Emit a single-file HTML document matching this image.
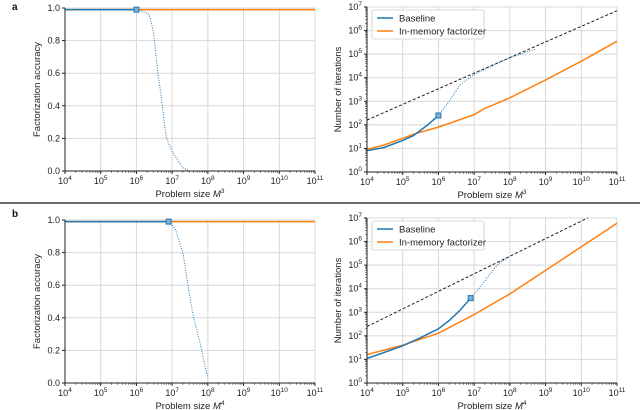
<!DOCTYPE html>
<html><head><meta charset="utf-8"><style>
body{margin:0;background:#fff}
svg{display:block;font-family:"Liberation Sans",sans-serif}
</style></head><body>
<svg id="fig" width="640" height="410" viewBox="0 0 640 410"></svg>
<script>
// ---- data ----
const accAOrangeX=[1e4,1e11];
const accAOrangeY=[0.99,0.99];
const accABlueX=[1e4,1e5,1e6];
const accABlueY=[0.99,0.99,0.99];
const accADotX=[1e6,1.5e6,2.3e6,3e6,4e6,5e6,6e6,7e6,1e7,1.3e7,2e7,3e7,1e8,5e8];
const accADotY=[0.99,0.98,0.96,0.85,0.6,0.45,0.3,0.2,0.12,0.08,0.02,0.0,0.0,0.0];
const accBOrangeX=[1e4,1e11];
const accBOrangeY=[0.99,0.99];
const accBBlueX=[1e4,1e6,8e6];
const accBBlueY=[0.99,0.99,0.99];
const accBDotX=[8e6,1.2e7,2e7,3e7,4e7,6e7,8e7,1e8];
const accBDotY=[0.99,0.95,0.8,0.55,0.4,0.25,0.12,0.03];
const itAOrangeX=[1e4,3e4,1e5,2e5,1e6,1e7,2e7,1e8,1e9,1e10,1e11];
const itAOrangeY=[9,14,27,40,80,270,500,1400,8000,50000,350000];
const itABlueX=[1e4,3e4,1e5,2e5,5e5,1e6];
const itABlueY=[8,11,22,35,100,250];
const itADotX=[1e6,2e6,4e6,1e7,1e8,5e8];
const itADotY=[250,1000,5000,14000,70000,160000];
const itADashX=[1e4,1e11];
const itADashY=[160,7e6];
const itBOrangeX=[1e4,1e5,1e6,1e7,1e8,1e9,1e10,1e11];
const itBOrangeY=[16,40,130,800,6000,60000,600000,6e6];
const itBBlueX=[1e4,1e5,3e5,1e6,2e6,4e6,8e6];
const itBBlueY=[11,38,80,200,450,1200,4000];
const itBDotX=[8e6,1.5e7,3e7,5e7,1e8];
const itBDotY=[4000,12000,50000,120000,230000];
const itBDashX=[1e4,1.5e10];
const itBDashY=[250,1e7];
const xDecades=[4,5,6,7,8,9,10,11];
const accTicks=[0,0.2,0.4,0.6,0.8,1.0];
const itDecades=[0,1,2,3,4,5,6,7];

const NS="http://www.w3.org/2000/svg";
const svg=document.getElementById('fig');
function mk(tag,attrs,parent){const e=document.createElementNS(NS,tag);for(const k in attrs)e.setAttribute(k,attrs[k]);(parent||svg).appendChild(e);return e;}
const BLUE="#1f77b4",ORANGE="#ff7f0e";

function panel(name,x0,x1,y0,y1,logY,ylab,xlab,series,legend,marker){
  const g=mk('g',{});
  
  
  const X=v=>x0+(Math.log10(v)-4)/7*(x1-x0);
  const Y=logY?(v=>y1-Math.log10(v)/7*(y1-y0)):(v=>y1-v*(y1-y0));
  xDecades.forEach(d=>{mk('line',{x1:X(10**d),x2:X(10**d),y1:y0,y2:y1,stroke:'#d8d8d8','stroke-width':1},g);});
  const yt=logY?itDecades:accTicks;
  yt.forEach(t=>{const yy=logY?Y(10**t):Y(t);mk('line',{x1:x0,x2:x1,y1:yy,y2:yy,stroke:'#d8d8d8','stroke-width':1},g);});
  series.forEach(s=>{
    const pts=s.x.map((v,i)=>X(v).toFixed(1)+','+Y(s.y[i]).toFixed(1)).join(' ');
    const p=mk('polyline',{points:pts,fill:'none',stroke:s.c,'stroke-width':s.w||1.5,'stroke-dasharray':s.d||'none'},g);
    
    
  });
  const mx=X(marker[0]),my=Y(marker[1]);
  const m=mk('rect',{x:mx-2.5,y:my-2.5,width:5,height:5,fill:'#7fb0d8',stroke:BLUE,'stroke-width':1},g);
  
  
  mk('line',{x1:x0,x2:x0,y1:y0,y2:y1,stroke:'#222','stroke-width':1},g);
  mk('line',{x1:x0,x2:x1,y1:y1,y2:y1,stroke:'#222','stroke-width':1},g);
  xDecades.forEach(d=>{
    const xx=X(10**d);
    mk('line',{x1:xx,x2:xx,y1:y1,y2:y1+3,stroke:'#222'},g);
    const t=mk('text',{x:xx,y:y1+13,'font-size':9,'text-anchor':'middle',fill:'#222'},g);
    t.textContent='10';
    const s=mk('tspan',{dy:-4,'font-size':6.5},t);s.textContent=d;
    if(d<11)for(let k=2;k<10;k++){const mxx=X(k*10**d);mk('line',{x1:mxx,x2:mxx,y1:y1,y2:y1+1.8,stroke:'#222','stroke-width':0.6},g);}
  });
  yt.forEach(t=>{
    const yy=logY?Y(10**t):Y(t);
    mk('line',{x1:x0-3,x2:x0,y1:yy,y2:yy,stroke:'#222'},g);
    const tx=mk('text',{x:x0-5,y:yy+3,'font-size':9,'text-anchor':'end',fill:'#222'},g);
    if(logY){tx.textContent='10';const s=mk('tspan',{dy:-4,'font-size':6.5},tx);s.textContent=t;}
    else tx.textContent=t.toFixed(1);
    if(logY&&t<7)for(let k=2;k<10;k++){const my2=Y(k*10**t);mk('line',{x1:x0-1.8,x2:x0,y1:my2,y2:my2,stroke:'#222','stroke-width':0.6},g);}
  });
  const xl=mk('text',{x:(x0+x1)/2,y:y1+26,'font-size':9.5,'text-anchor':'middle',fill:'#222'},g);
  xl.textContent='Problem size ';
  const it=mk('tspan',{'font-style':'italic'},xl);it.textContent='M';
  const sp=mk('tspan',{dy:-4,'font-size':6.5},xl);sp.textContent=xlab;
  const yl=mk('text',{x:0,y:0,'font-size':9.5,'text-anchor':'middle',fill:'#222',transform:`translate(${logY?x0-26:x0-25},${(y0+y1)/2}) rotate(-90)`},g);
  yl.textContent=ylab;
  if(legend){
    const lg=mk('g',{},g);
    
    
    mk('rect',{x:x0+5,y:y0+3,width:112,height:29,rx:2,fill:'#fff',stroke:'#ccc','stroke-width':0.8},lg);
    [['Baseline',BLUE],['In-memory factorizer',ORANGE]].forEach((e,i)=>{
      const yy=y0+11+i*13;
      mk('line',{x1:x0,x2:x0,y1:yy,y2:yy},lg);
      mk('line',{x1:x0+10,x2:x0+26,y1:yy,y2:yy,stroke:e[1],'stroke-width':1.5},lg);
      const t=mk('text',{x:x0+32,y:yy+3.5,'font-size':9.5,fill:'#222'},lg);t.textContent=e[0];
    });
  }
}

panel('panel-a-accuracy',65,315,8,171,false,'Factorization accuracy','3',[
 {x:accAOrangeX,y:accAOrangeY,c:ORANGE,n:'in-memory-accuracy'},
 {x:accADotX,y:accADotY,c:BLUE,w:1,d:'1,1.5',n:'baseline-accuracy-extrapolated'},
 {x:accABlueX,y:accABlueY,c:BLUE,n:'baseline-accuracy'}],false,[1e6,0.99]);
panel('panel-a-iterations',367,617,7,172,true,'Number of iterations','3',[
 {x:itADashX,y:itADashY,c:'#222',w:1,d:'3,2',n:'bound-line'},
 {x:itAOrangeX,y:itAOrangeY,c:ORANGE,n:'in-memory-iterations'},
 {x:itADotX,y:itADotY,c:BLUE,w:1,d:'1,1.5',n:'baseline-iterations-extrapolated'},
 {x:itABlueX,y:itABlueY,c:BLUE,n:'baseline-iterations'}],true,[1e6,250]);
panel('panel-b-accuracy',65,315,220,383,false,'Factorization accuracy','4',[
 {x:accBOrangeX,y:accBOrangeY,c:ORANGE,n:'in-memory-accuracy'},
 {x:accBDotX,y:accBDotY,c:BLUE,w:1,d:'1,1.5',n:'baseline-accuracy-extrapolated'},
 {x:accBBlueX,y:accBBlueY,c:BLUE,n:'baseline-accuracy'}],false,[8e6,0.99]);
panel('panel-b-iterations',367,617,218,383,true,'Number of iterations','4',[
 {x:itBDashX,y:itBDashY,c:'#222',w:1,d:'3,2',n:'bound-line'},
 {x:itBOrangeX,y:itBOrangeY,c:ORANGE,n:'in-memory-iterations'},
 {x:itBDotX,y:itBDotY,c:BLUE,w:1,d:'1,1.5',n:'baseline-iterations-extrapolated'},
 {x:itBBlueX,y:itBBlueY,c:BLUE,n:'baseline-iterations'}],true,[8e6,4000]);

const sep=mk('line',{x1:0,x2:640,y1:203,y2:203,stroke:'#111','stroke-width':1.2});


[['a',10],['b',217]].forEach(l=>{const t=mk('text',{x:12,y:l[1],'font-size':10,'font-weight':'bold',fill:'#111'});t.textContent=l[0];

});
</script>
</body></html>
